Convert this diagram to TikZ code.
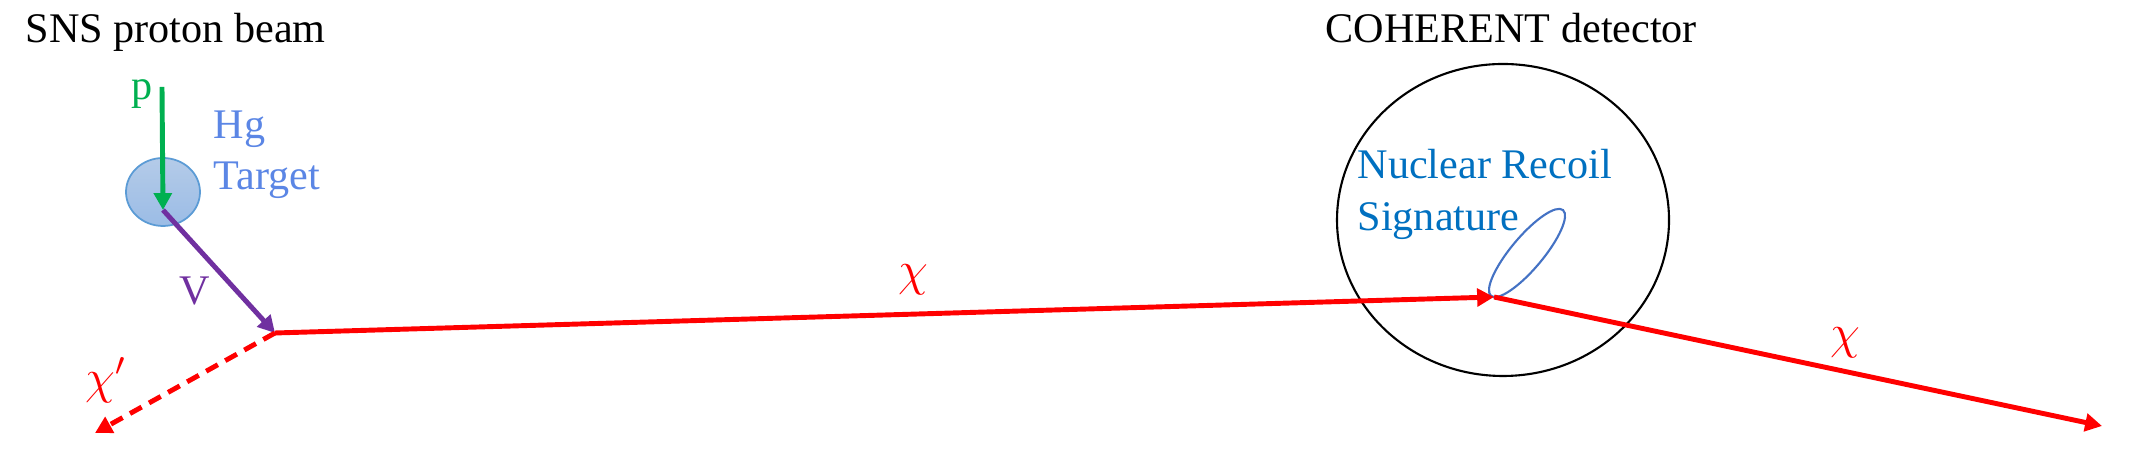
\documentclass[tikz,border=0pt]{standalone}
\usepackage{fontspec}
\setmainfont{Liberation Serif}
\usetikzlibrary{arrows.meta,shapes.geometric,positioning,calc}
\definecolor{pgreen}{HTML}{00B050}
\definecolor{vpurple}{HTML}{7030A0}
\definecolor{hgblue}{HTML}{5B86E5}
\definecolor{nrblue}{HTML}{0070C0}
\definecolor{elblue}{HTML}{4472C4}
\definecolor{tgtedge}{HTML}{5B9BD5}
\definecolor{tgttop}{HTML}{B4CBE8}
\definecolor{tgtbot}{HTML}{9BBCE6}

\begin{document}
\begin{tikzpicture}
  [every node/.style={inner sep=0pt,font=\fontsize{12}{14.6}\selectfont},
   tip/.style={-{Triangle[length=4.8pt,width=5pt]}},
   beam/.style={line width=1.4pt,tip}]
  \useasboundingbox (0,0) rectangle (21.34,4.6);

  % titles
  \node[anchor=base west] (sns) at (0.25,4.17) {SNS proton beam};
  \node[anchor=base west] (coh) at (13.25,4.17) {COHERENT detector};

  % target and detector
  \node[ellipse,draw=tgtedge,line width=0.5pt,top color=tgttop,bottom color=tgtbot,
        minimum width=0.74cm,minimum height=0.68cm] (tgt) at (1.63,2.68) {};
  \node[ellipse,draw,line width=0.6pt,minimum width=3.32cm,minimum height=3.12cm] (det) at (15.03,2.40) {};
  \node[ellipse,draw=elblue,line width=0.6pt,minimum width=1.12cm,minimum height=0.32cm,rotate=50] (sig) at (15.27,2.07) {};

  \coordinate (pin) at (1.62,3.73);
  \coordinate (hit) at (1.63,2.50);
  \coordinate (vtx) at (2.75,1.27);
  \coordinate (xp)  at (0.95,0.27);
  \coordinate (sc)  at (14.94,1.63);
  \coordinate (out) at (21.02,0.34);

  % particles
  \draw[beam,pgreen] (pin) -- (hit);
  \draw[beam,vpurple] (hit) -- (vtx);
  \draw[beam,red] (vtx) -- (sc);
  \draw[beam,red,dash pattern=on 3.8pt off 2.4pt] (vtx) -- (xp);
  \draw[beam,red] (sc) -- (out);

  % labels
  \node[anchor=base,pgreen] (lp) at (1.42,3.60) {p};
  \node[anchor=north west,align=left,text=hgblue] (lhg) at (2.13,3.50) {Hg\\Target};
  \node[anchor=base,vpurple] (lv) at (1.95,1.55) {V};
  \node[red,scale=1.15] (lxp) at (1.06,0.80) {$\chi'$};
  \node[red,scale=1.15] (lx1) at (9.13,1.80) {$\chi$};
  \node[red,scale=1.15] (lx2) at (18.45,1.17) {$\chi$};
  \node[anchor=north west,align=left,text=nrblue] (lnr) at (13.57,3.11) {Nuclear Recoil\\Signature};
\end{tikzpicture}
\end{document}
